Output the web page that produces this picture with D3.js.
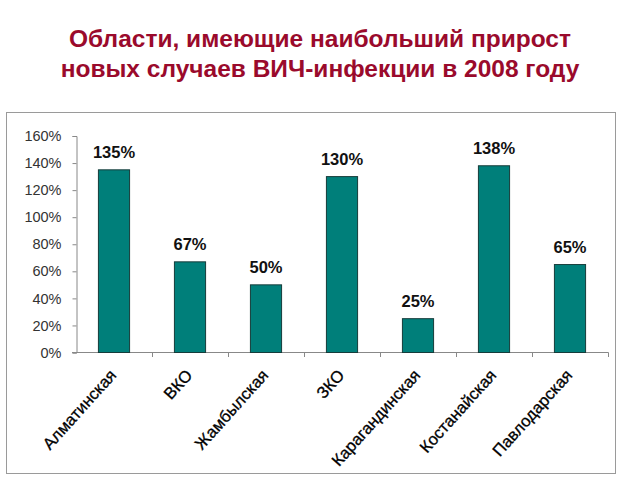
<!DOCTYPE html>
<html>
<head>
<meta charset="utf-8">
<script src="https://cdn.jsdelivr.net/npm/d3@7"></script>
<style>
  body { margin: 0; background: #fff; }
  text { font-family: Arial, "Liberation Sans", sans-serif; }
</style>
</head>
<body>
<script>
(function(){
  var width = 640, height = 480;

  var titleLines = ["Области, имеющие наибольший прирост", "новых случаев ВИЧ-инфекции в 2008 году"];
  var regions = ["Алматинская", "ВКО", "Жамбылская", "ЗКО", "Карагандинская", "Костанайская", "Павлодарская"];
  var growth = [1.35, 0.67, 0.50, 1.30, 0.25, 1.38, 0.65];
  var yTicks = [0, 0.2, 0.4, 0.6, 0.8, 1.0, 1.2, 1.4, 1.6];

  var svg = d3.select("body").append("svg")
    .attr("width", width)
    .attr("height", height);

  // title
  svg.append("g").selectAll("text")
    .data(titleLines)
    .join("text")
    .attr("x", 320)
    .attr("y", (d, i) => 47 + i * 30)
    .attr("text-anchor", "middle")
    .attr("font-size", 24.5)
    .attr("font-weight", "bold")
    .attr("fill", "#9a0a2c")
    .text(d => d);

  // frame around the chart
  svg.append("rect")
    .attr("x", 6.5).attr("y", 112.5)
    .attr("width", 609).attr("height", 361)
    .attr("fill", "none")
    .attr("stroke", "#9a9a9a");

  var x = d3.scaleBand().domain(regions).range([76, 608]).padding(0);
  var y = d3.scaleLinear().domain([0, 1.6]).range([352.5, 136]);
  var barW = x.bandwidth() * 0.41;

  // y axis
  var yAxis = svg.append("g")
    .attr("transform", "translate(76.5,0)")
    .call(d3.axisLeft(y).tickValues(yTicks).tickSize(4).tickPadding(11)
      .tickFormat(d3.format(".0%")));
  yAxis.select(".domain").attr("stroke", "#888");
  yAxis.selectAll(".tick line").attr("stroke", "#888");
  yAxis.selectAll(".tick text")
    .attr("font-size", 14.5)
    .attr("fill", "#333")
    .attr("font-family", "Arial, 'Liberation Sans', sans-serif");

  // x axis line and ticks between categories
  svg.append("line")
    .attr("x1", 72).attr("x2", 608.5)
    .attr("y1", 352.5).attr("y2", 352.5)
    .attr("stroke", "#888");
  svg.append("g").selectAll("line")
    .data(regions)
    .join("line")
    .attr("x1", d => Math.round(x(d) + x.bandwidth()) + 0.5)
    .attr("x2", d => Math.round(x(d) + x.bandwidth()) + 0.5)
    .attr("y1", 352.5).attr("y2", 357)
    .attr("stroke", "#888");

  // bars
  svg.append("g").selectAll("rect")
    .data(growth)
    .join("rect")
    .attr("x", (d, i) => x(regions[i]) + x.bandwidth() / 2 - barW / 2)
    .attr("y", d => y(d))
    .attr("width", barW)
    .attr("height", d => y(0) - y(d))
    .attr("fill", "#007f7a")
    .attr("stroke", "#163c3a")
    .attr("stroke-width", 1);

  // value labels
  svg.append("g").selectAll("text")
    .data(growth)
    .join("text")
    .attr("x", (d, i) => x(regions[i]) + x.bandwidth() / 2)
    .attr("y", d => y(d) - 12)
    .attr("text-anchor", "middle")
    .attr("font-size", 16.5)
    .attr("font-weight", "bold")
    .attr("fill", "#111")
    .text(d => d3.format(".0%")(d));

  // category labels, rotated
  svg.append("g").selectAll("text")
    .data(regions)
    .join("text")
    .attr("transform", d => "translate(" + (x(d) + x.bandwidth() / 2 - 1) + ",372) rotate(-48)")
    .attr("dy", "0.35em")
    .attr("text-anchor", "end")
    .attr("font-size", 16.5)
    .attr("fill", "#000")
    .attr("stroke", "#000")
    .attr("stroke-width", 0.3)
    .text(d => d);
})();
</script>
</body>
</html>
